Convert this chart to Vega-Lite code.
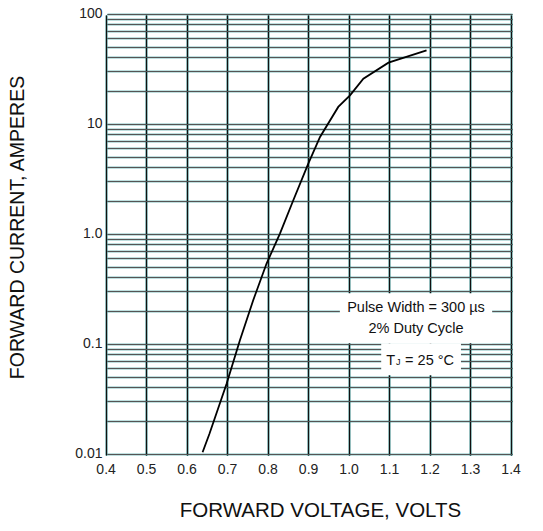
{
  "$schema": "https://vega.github.io/schema/vega-lite/v6.json",
  "width": 405,
  "height": 440,
  "autosize": "none",
  "padding": {"left": 107, "top": 15, "right": 31, "bottom": 76},
  "background": "white",
  "config": {"view": {"stroke": null}, "font": "Liberation Sans"},
  "datasets": {
    "curve": [
      {"v": 0.636, "i": 0.0106},
      {"v": 0.653, "i": 0.0156},
      {"v": 0.6955, "i": 0.0446},
      {"v": 0.728, "i": 0.11},
      {"v": 0.761, "i": 0.255},
      {"v": 0.794, "i": 0.55},
      {"v": 0.827, "i": 1.03},
      {"v": 0.86, "i": 2.07},
      {"v": 0.897, "i": 4.46},
      {"v": 0.926, "i": 7.78},
      {"v": 0.971, "i": 14.6},
      {"v": 1.0, "i": 18.6},
      {"v": 1.033, "i": 26.4},
      {"v": 1.095, "i": 36.9},
      {"v": 1.189, "i": 47.7}
    ],
    "boxes": [
      {"v": 0.975, "v2": 1.351, "i": 0.295, "i2": 0.1035},
      {"v": 1.077, "v2": 1.274, "i": 0.1035, "i2": 0.053}
    ],
    "centerText": [
      {"v": 1.163, "i": 0.1995, "t": "Pulse Width = 300 µs"},
      {"v": 1.163, "i": 0.1297, "t": "2% Duty Cycle"},
      {"v": 1.1005, "i": 0.0653, "t": "T"}
    ],
    "leftText": [
      {"v": 1.136, "i": 0.0653, "t": "= 25 °C"}
    ],
    "subText": [
      {"v": 1.119, "i": 0.0653, "t": "J"}
    ]
  },
  "layer": [
    {
      "data": {"name": "curve"},
      "mark": {"type": "line", "color": "black", "strokeWidth": 1.8},
      "encoding": {
        "x": {
          "field": "v", "type": "quantitative",
          "scale": {"domain": [0.4, 1.4], "nice": false, "zero": false},
          "axis": {
            "orient": "bottom",
            "values": [0.4, 0.5, 0.6, 0.7, 0.8, 0.9, 1.0, 1.1, 1.2, 1.3, 1.4],
            "format": ".1f",
            "grid": true, "gridColor": "#007f7f", "gridWidth": 1.7,
            "ticks": true, "tickSize": -440, "tickColor": "#111", "tickWidth": 1.2, "tickOffset": -1.4,
            "domain": false,
            "labelFlush": false, "labelOverlap": false,
            "labelFontSize": 14, "labelColor": "#222", "labelPadding": 447,
            "title": "FORWARD VOLTAGE, VOLTS",
            "titleFontSize": 20.5, "titleFontWeight": "normal", "titleColor": "#111",
            "titlePadding": 24, "titleX": 213
          }
        },
        "y": {
          "field": "i", "type": "quantitative",
          "scale": {"type": "log", "domain": [0.01, 100], "nice": false},
          "axis": {
            "orient": "left",
            "values": [0.01,0.02,0.03,0.04,0.05,0.06,0.07,0.08,0.09,0.1,0.2,0.3,0.4,0.5,0.6,0.7,0.8,0.9,1,2,3,4,5,6,7,8,9,10,20,30,40,50,60,70,80,90,100],
            "labelExpr": "datum.value == 0.01 ? '0.01' : datum.value == 0.1 ? '0.1' : datum.value == 1 ? '1.0' : datum.value == 10 ? '10' : datum.value == 100 ? '100' : ''",
            "grid": true, "gridColor": "#007f7f", "gridWidth": 1.7,
            "ticks": true, "tickSize": -405, "tickColor": "#555", "tickWidth": 1, "tickOffset": -1.3,
            "domain": false,
            "labelOverlap": false, "labelFlush": false,
            "labelFontSize": 14, "labelColor": "#222", "labelPadding": 410,
            "title": "FORWARD CURRENT, AMPERES",
            "titleFontSize": 19.5, "titleFontWeight": "normal", "titleColor": "#111",
            "titlePadding": 47, "titleY": 212
          }
        }
      }
    },
    {
      "data": {"name": "boxes"},
      "mark": {"type": "rect", "color": "white"},
      "encoding": {
        "x": {"field": "v", "type": "quantitative"},
        "x2": {"field": "v2"},
        "y": {"field": "i", "type": "quantitative"},
        "y2": {"field": "i2"}
      }
    },
    {
      "data": {"name": "centerText"},
      "mark": {"type": "text", "fontSize": 14.5, "align": "center", "baseline": "alphabetic", "color": "#111"},
      "encoding": {
        "x": {"field": "v", "type": "quantitative"},
        "y": {"field": "i", "type": "quantitative"},
        "text": {"field": "t"}
      }
    },
    {
      "data": {"name": "leftText"},
      "mark": {"type": "text", "fontSize": 14.5, "align": "left", "baseline": "alphabetic", "color": "#111"},
      "encoding": {
        "x": {"field": "v", "type": "quantitative"},
        "y": {"field": "i", "type": "quantitative"},
        "text": {"field": "t"}
      }
    },
    {
      "data": {"name": "subText"},
      "mark": {"type": "text", "fontSize": 9, "align": "center", "baseline": "alphabetic", "color": "#111"},
      "encoding": {
        "x": {"field": "v", "type": "quantitative"},
        "y": {"field": "i", "type": "quantitative"},
        "text": {"field": "t"}
      }
    }
  ]
}
